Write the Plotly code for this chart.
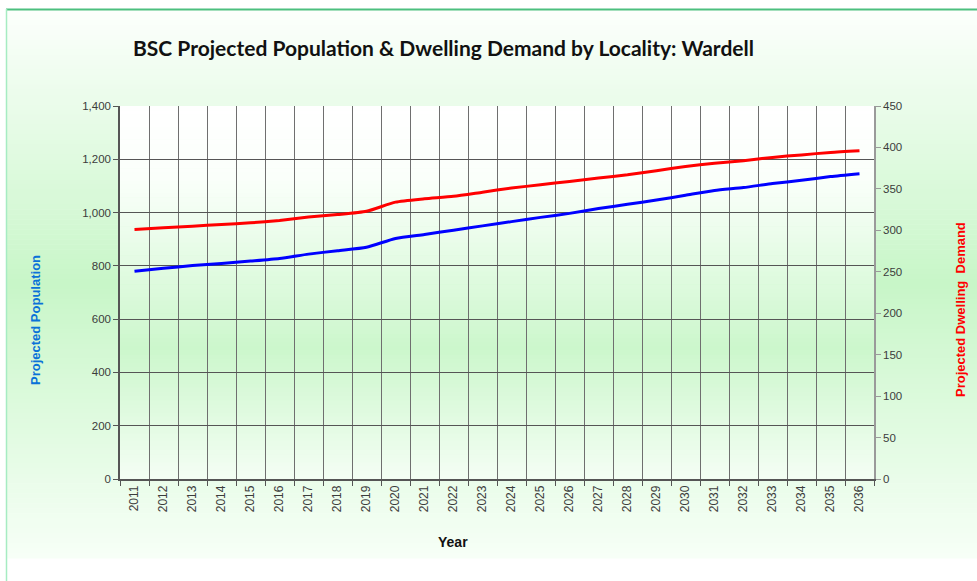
import plotly.graph_objects as go

# Projection years and series
years = [str(y) for y in range(2011, 2037)]
population = [780, 791, 801, 809, 818, 828, 844, 857, 870, 903, 918, 934, 950,
              966, 982, 997, 1015, 1031, 1047, 1065, 1083, 1094, 1109, 1121, 1135, 1146]
dwellings = [301, 303, 305, 307, 309, 312, 316, 319, 323, 334, 338, 341, 346,
             351, 355, 359, 363, 367, 372, 377, 381, 384, 388, 391, 394, 396]

pop_ticks = list(range(0, 1401, 200))
dwell_ticks = list(range(0, 451, 50))

W, H = 977, 581
L, R, T, B = 120, 103, 106, 102
PW, PH = W - L - R, H - T - B


def px_x(x):
    return (x - L) / PW


def px_y(y):
    return (H - B - y) / PH


def mix(c1, c2, t):
    return tuple(round(a + (b - a) * t) for a, b in zip(c1, c2))


def grad(stops, f):
    for (p0, c0), (p1, c1) in zip(stops, stops[1:]):
        if p0 <= f <= p1:
            return mix(c0, c1, (f - p0) / (p1 - p0) if p1 > p0 else 0)
    return stops[-1][1]


shapes = []

# outer frame gradient
outer_top, outer_bot = 10, 558
outer_stops = [(0.0, (252, 255, 252)), (0.5, (200, 246, 200)), (1.0, (247, 255, 247))]
n = 110
for i in range(n):
    y0 = outer_top + (outer_bot - outer_top) * i / n
    y1 = outer_top + (outer_bot - outer_top) * (i + 1) / n + 0.6
    c = grad(outer_stops, (i + 0.5) / n)
    shapes.append(dict(type="rect", xref="paper", yref="paper",
                       x0=px_x(7), x1=px_x(W + 2), y0=px_y(y1), y1=px_y(y0),
                       fillcolor="rgb(%d,%d,%d)" % c, line=dict(width=0), layer="below"))

# plot-area gradient
inner_stops = [(0.0, (255, 255, 255)), (0.2, (250, 255, 250)), (0.65, (204, 247, 204)),
               (1.0, (244, 254, 244))]
m = 90
for i in range(m):
    y0 = T + PH * i / m
    y1 = T + PH * (i + 1) / m + 0.6
    c = grad(inner_stops, (i + 0.5) / m)
    shapes.append(dict(type="rect", xref="paper", yref="paper",
                       x0=0, x1=1, y0=px_y(min(y1, T + PH)), y1=px_y(y0),
                       fillcolor="rgb(%d,%d,%d)" % c, line=dict(width=0), layer="below"))

# frame borders
shapes.append(dict(type="line", xref="paper", yref="paper",
                   x0=px_x(6), x1=px_x(W + 2), y0=px_y(9.5), y1=px_y(9.5),
                   line=dict(color="#4cbf7f", width=2), layer="below"))
shapes.append(dict(type="line", xref="paper", yref="paper",
                   x0=px_x(6.5), x1=px_x(6.5), y0=px_y(9), y1=px_y(H + 2),
                   line=dict(color="#a6ecc2", width=1.5), layer="below"))

fig = go.Figure()
fig.add_trace(go.Scatter(x=years, y=population, mode="lines", name="Projected Population",
                         line=dict(color="#0000ff", width=3, shape="spline", smoothing=0.6),
                         yaxis="y"))
fig.add_trace(go.Scatter(x=years, y=dwellings, mode="lines", name="Projected Dwelling Demand",
                         line=dict(color="#ff0000", width=3, shape="spline", smoothing=0.6),
                         yaxis="y2"))

tick_font = dict(family="Liberation Sans, Arial, sans-serif", size=11.5, color="#3c3c3c")
xtick_font = dict(family="Liberation Sans, Arial, sans-serif", size=12, color="#3c3c3c")

fig.update_layout(
    width=W, height=H,
    margin=dict(l=L, r=R, t=T, b=B),
    paper_bgcolor="white",
    plot_bgcolor="rgba(0,0,0,0)",
    showlegend=False,
    shapes=shapes,
    xaxis=dict(type="category", tickson="boundaries", range=[-0.5, len(years) - 0.5],
               showgrid=True, gridcolor="#6f6f6f", gridwidth=1.2, tickangle=-90,
               ticks="outside", ticklen=5, tickcolor="#555555",
               showline=True, linecolor="#555555", linewidth=1.5,
               tickfont=xtick_font, zeroline=False),
    yaxis=dict(range=[0, 1400], tickvals=pop_ticks, tickformat=",",
               showgrid=True, gridcolor="#555555", gridwidth=1.2,
               ticks="outside", ticklen=5, tickcolor="#555555",
               showline=True, linecolor="#555555", linewidth=1.5,
               tickfont=tick_font, zeroline=False),
    yaxis2=dict(range=[0, 450], tickvals=dwell_ticks, overlaying="y", side="right",
                showgrid=False, ticks="outside", ticklen=5, tickcolor="#9a9a9a",
                showline=True, linecolor="#9a9a9a", linewidth=1.5,
                tickfont=tick_font, zeroline=False),
    annotations=[
        dict(text="<b>BSC Projected Population & Dwelling Demand by Locality: Wardell</b>",
             xref="paper", yref="paper", x=px_x(443), y=px_y(48),
             showarrow=False, xanchor="center", yanchor="middle",
             font=dict(family="Lato, Open Sans, sans-serif", size=21, color="#111111")),
        dict(text="<b>Projected Population</b>", xref="paper", yref="paper",
             x=px_x(35), y=px_y(320), textangle=-90, showarrow=False,
             xanchor="center", yanchor="middle",
             font=dict(family="Liberation Sans, Arial, sans-serif", size=13, color="#0a72d8")),
        dict(text="<b>Projected Dwelling  Demand</b>", xref="paper", yref="paper",
             x=px_x(960), y=px_y(310), textangle=-90, showarrow=False,
             xanchor="center", yanchor="middle",
             font=dict(family="Liberation Sans, Arial, sans-serif", size=13, color="#ff0000")),
        dict(text="<b>Year</b>", xref="paper", yref="paper",
             x=px_x(453), y=px_y(542), showarrow=False,
             xanchor="center", yanchor="middle",
             font=dict(family="Liberation Sans, Arial, sans-serif", size=14, color="#111111")),
    ],
)

fig.write_html("out.html")
